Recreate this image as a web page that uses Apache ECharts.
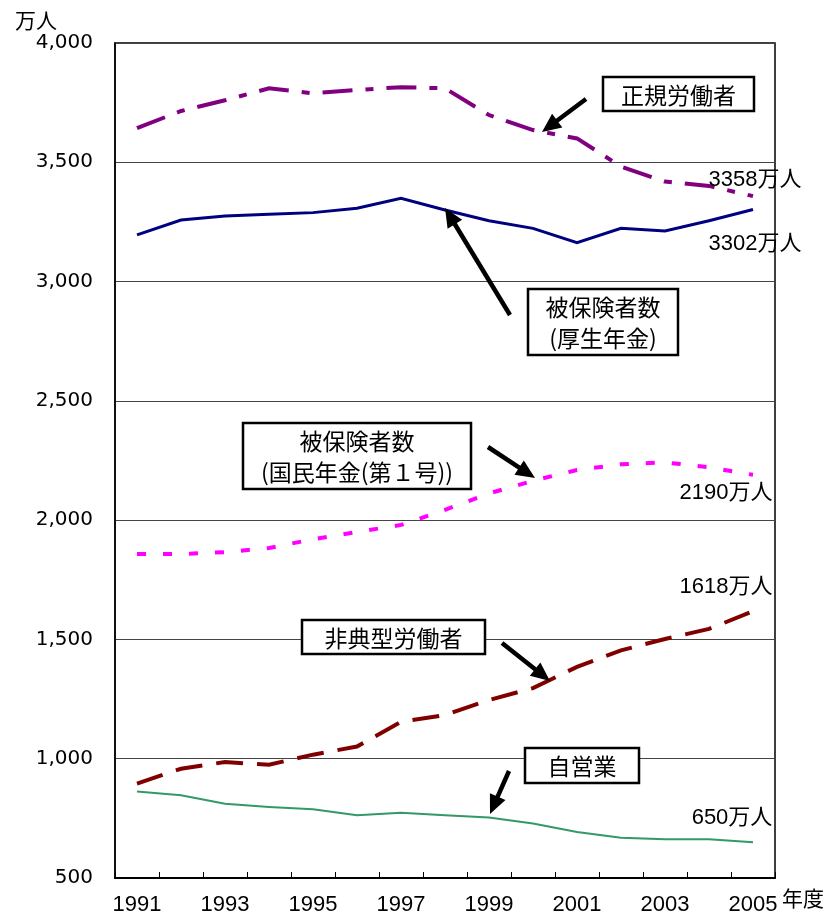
<!DOCTYPE html>
<html>
<head>
<meta charset="utf-8">
<title>就業形態別・公的年金被保険者数の推移</title>
<script src="https://cdn.jsdelivr.net/npm/echarts@6/dist/echarts.min.js"></script>
<style>
  html, body { margin: 0; padding: 0; background: #fff; }
  #chart { width: 837px; height: 917px; }
</style>
</head>
<body>
<div id="chart"></div>
<script>
// 年度
const years = ['1991','1992','1993','1994','1995','1996','1997','1998','1999','2000','2001','2002','2003','2004','2005'];

// 万人
const regularWorkers   = [3643, 3715, 3760, 3810, 3789, 3803, 3815, 3810, 3698, 3635, 3600, 3482, 3419, 3401, 3358];
const koseiInsured     = [3196, 3258, 3275, 3282, 3289, 3307, 3349, 3300, 3255, 3223, 3163, 3223, 3212, 3255, 3302];
const kokuminInsured   = [1858, 1858, 1866, 1883, 1920, 1950, 1980, 2043, 2112, 2165, 2210, 2234, 2242, 2222, 2190];
const nonRegular       = [896, 958, 986, 975, 1017, 1051, 1155, 1183, 1246, 1296, 1385, 1454, 1502, 1544, 1618];
const selfEmployed     = [863, 847, 811, 798, 788, 763, 773, 763, 754, 728, 693, 669, 662, 662, 650];

// 縦軸
const yMin = 500, yMax = 4000, yStep = 500;

const AXIS_FONT = 'DejaVu Sans, Noto Sans CJK JP, sans-serif';
const NUM_FONT = 'Liberation Sans, Arial, Noto Sans CJK JP, sans-serif';
const JP_FONT = 'Noto Sans CJK JP, sans-serif';

const chart = echarts.init(document.getElementById('chart'), null, { renderer: 'canvas' });

// 最終年度の値ラベル
function endLabelData(values, labelOpt) {
  const last = values.length - 1;
  return values.map((v, i) => i === last
    ? { value: v, label: Object.assign({
        show: true,
        formatter: p => p.value + '万人',
        color: '#000',
        fontSize: 22,
        fontFamily: NUM_FONT,
        align: 'center'
      }, labelOpt) }
    : v);
}

function lineSeries(name, values, color, width, dash, labelOpt) {
  return {
    name: name,
    type: 'line',
    data: endLabelData(values, labelOpt),
    showSymbol: true,
    showAllSymbol: true,
    symbol: 'circle',
    symbolSize: 1,
    itemStyle: { color: 'rgba(0,0,0,0)', borderWidth: 0 },
    lineStyle: { color: color, width: width, type: dash, cap: 'butt', join: 'miter' },
    emphasis: { disabled: true },
    silent: true,
    z: 3
  };
}

// 矢印(注記用)
function arrow(x1, y1, x2, y2) {
  const dx = x2 - x1, dy = y2 - y1;
  const len = Math.sqrt(dx * dx + dy * dy);
  const ux = dx / len, uy = dy / len;
  const headLen = 19, headHalf = 8.5;
  const bx = x2 - ux * headLen, by = y2 - uy * headLen;
  return [
    { type: 'line', shape: { x1: x1, y1: y1, x2: bx + ux * 2, y2: by + uy * 2 },
      style: { stroke: '#000', lineWidth: 4.5 }, z: 20 },
    { type: 'polygon', shape: { points: [[x2, y2], [bx - uy * headHalf, by + ux * headHalf], [bx + uy * headHalf, by - ux * headHalf]] },
      style: { fill: '#000' }, z: 20 }
  ];
}

// 枠付きラベル(注記用)
function box(x, y, w, h, text) {
  return [
    { type: 'rect', shape: { x: x, y: y, width: w, height: h },
      style: { fill: '#fff', stroke: '#000', lineWidth: 2.5 }, z: 20 },
    { type: 'text', x: x + w / 2, y: y + h / 2 + 1,
      style: { text: text, fill: '#000', font: '23px ' + JP_FONT, align: 'center', verticalAlign: 'middle', lineHeight: 31 },
      z: 21 }
  ];
}

const graphics = [].concat(
  box(603, 77, 151, 34, '正規労働者'),
  arrow(586, 99, 542, 132),
  box(528, 289, 150, 66, '被保険者数\n(厚生年金)'),
  arrow(510, 315, 445, 208),
  box(243, 423, 228, 66, '被保険者数\n(国民年金(第１号))'),
  arrow(488, 447, 535, 478),
  box(302, 620, 183, 34, '非典型労働者'),
  arrow(502, 643, 550, 681),
  box(525, 748, 114, 35, '自営業'),
  arrow(509, 771, 490, 814),
  [
    { type: 'text', x: 15, y: 10, style: { text: '万人', fill: '#000', font: '21px ' + JP_FONT }, z: 20 },
    { type: 'text', x: 782, y: 888, style: { text: '年度', fill: '#000', font: '21px ' + JP_FONT }, z: 20 }
  ]
);

chart.setOption({
  animation: false,
  backgroundColor: '#fff',
  grid: { left: 115, right: 62, top: 43, bottom: 39, show: true, borderColor: '#000', borderWidth: 1.5, containLabel: false },
  xAxis: {
    type: 'category',
    data: years,
    boundaryGap: true,
    axisLine: { show: true, lineStyle: { color: '#000', width: 2 } },
    axisTick: { show: true, inside: true, interval: 0, length: 6, lineStyle: { color: '#000', width: 1 } },
    axisLabel: { interval: 1, margin: 16, color: '#000', fontSize: 22, fontFamily: NUM_FONT },
    splitLine: { show: false }
  },
  yAxis: {
    type: 'value',
    min: yMin,
    max: yMax,
    interval: yStep,
    axisLine: { show: true, lineStyle: { color: '#000', width: 1.5 } },
    axisTick: { show: false },
    axisLabel: { margin: 22, color: '#000', fontSize: 20, fontFamily: AXIS_FONT,
      formatter: v => v.toLocaleString('en-US') },
    splitLine: { show: true, lineStyle: { color: '#444', width: 1 } }
  },
  series: [
    lineSeries('正規労働者', regularWorkers, '#800080', 4, [30, 13, 8, 13], { position: 'top', distance: 5, offset: [2, 0] }),
    lineSeries('被保険者数(厚生年金)', koseiInsured, '#000080', 3, 'solid', { position: 'bottom', distance: 5, offset: [2, 18] }),
    lineSeries('被保険者数(国民年金(第1号))', kokuminInsured, '#FF00FF', 4, [9, 17], { position: 'bottom', distance: 5, offset: [-27, 2] }),
    lineSeries('非典型労働者', nonRegular, '#800000', 4, [27, 14], { position: 'top', distance: 5, offset: [-27, -8] }),
    lineSeries('自営業', selfEmployed, '#339966', 2, 'solid', { position: 'top', distance: 5, offset: [-21, -8] })
  ],
  graphic: graphics
});
</script>
</body>
</html>
